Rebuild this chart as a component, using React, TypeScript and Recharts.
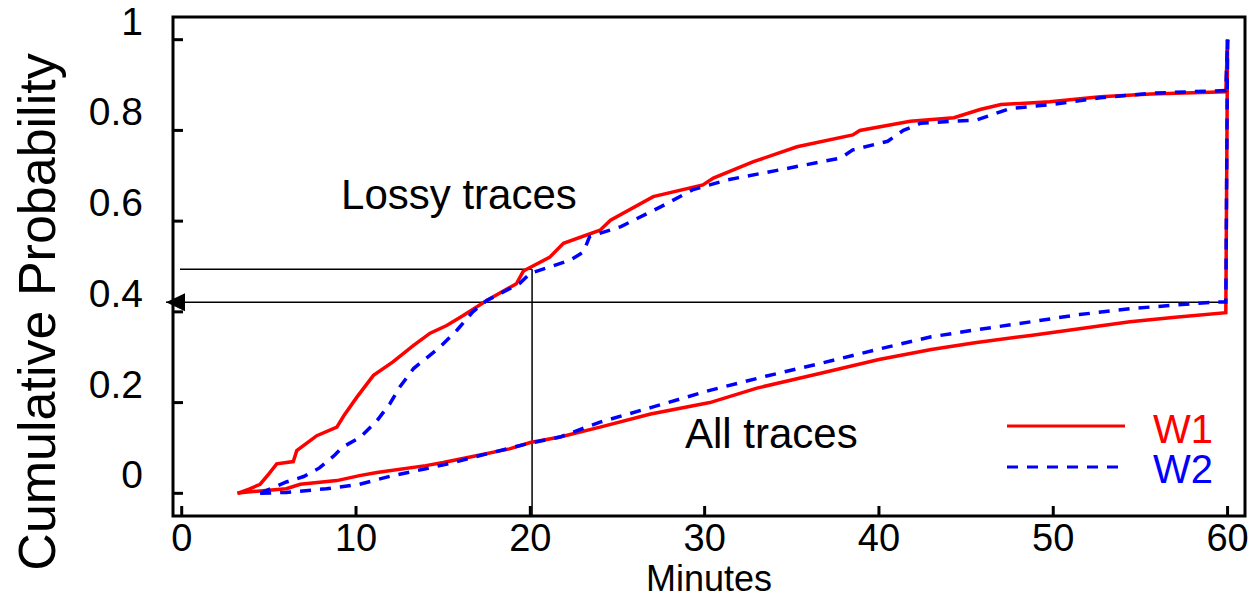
import React from "react";
import {
  LineChart,
  Line,
  XAxis,
  YAxis,
  ReferenceLine,
  ReferenceArea,
  ReferenceDot,
  Label,
} from "recharts";

type Pt = { m: number; p: number };
const mk = (a: number[][]): Pt[] => a.map(([m, p]) => ({ m, p }));

// Lossy traces, W1 (red solid)
const lossyW1: Pt[] = mk([
  [3.2, 0], [3.9, 0.01], [4.5, 0.02], [5.0, 0.043], [5.45, 0.065], [6.4, 0.07],
  [6.6, 0.094], [7.75, 0.127], [8.9, 0.146], [9.3, 0.171], [10.05, 0.212],
  [11.0, 0.26], [12.1, 0.289], [13.3, 0.326], [14.25, 0.353], [15.2, 0.37],
  [16.15, 0.392], [17.5, 0.425], [19.2, 0.462], [19.6, 0.49], [21.1, 0.52],
  [21.9, 0.551], [24.0, 0.58], [24.6, 0.602], [27.05, 0.654], [29.9, 0.68],
  [30.5, 0.695], [32.8, 0.731], [35.3, 0.764], [38.5, 0.79], [38.9, 0.8],
  [41.8, 0.82], [44.3, 0.828], [45.8, 0.846], [47.0, 0.857], [49.8, 0.863],
  [52.7, 0.874], [55.6, 0.88], [59.9, 0.885], [60, 1.0],
]);

// Lossy traces, W2 (blue dashed)
const lossyW2: Pt[] = mk([
  [4.5, 0], [6.0, 0.025], [7.0, 0.037], [7.9, 0.056], [8.8, 0.085], [9.2, 0.101],
  [10.25, 0.124], [11.2, 0.16], [11.95, 0.198], [12.5, 0.234], [13.3, 0.275],
  [14.8, 0.322], [15.8, 0.36], [16.7, 0.4], [17.5, 0.425], [19.4, 0.463],
  [20.0, 0.485], [22.3, 0.514], [23.05, 0.532], [23.4, 0.566], [25.2, 0.588],
  [27.5, 0.632], [29.3, 0.669], [31.3, 0.691], [34.3, 0.713], [37.8, 0.739],
  [38.5, 0.757], [40.5, 0.776], [41.4, 0.8], [42.4, 0.816], [45.6, 0.823],
  [47.5, 0.848], [49.9, 0.857], [52.7, 0.872], [55.6, 0.882], [59.9, 0.888],
  [60, 1.0],
]);

// All traces, W1 (red solid)
const allW1: Pt[] = mk([
  [3.2, 0], [3.5, 0.002], [6.0, 0.01], [6.8, 0.02], [8.9, 0.028], [10.2, 0.039],
  [11.2, 0.046], [14.0, 0.061], [15.0, 0.068], [16.9, 0.083], [18.8, 0.098],
  [20.0, 0.112], [21.7, 0.124], [24.0, 0.146], [26.9, 0.175], [30.3, 0.2],
  [33.0, 0.232], [36.6, 0.264], [40.0, 0.295], [43.0, 0.317], [45.5, 0.332],
  [48.7, 0.348], [51.5, 0.363], [54.4, 0.378], [57.0, 0.388], [59.9, 0.398],
  [60, 1.0],
]);

// All traces, W2 (blue dashed)
const allW2: Pt[] = mk([
  [4.5, 0], [6.0, 0.002], [8.3, 0.01], [10.2, 0.02], [12.1, 0.039], [14.0, 0.054],
  [15.6, 0.068], [17.5, 0.087], [19.8, 0.109], [21.7, 0.124], [24.0, 0.157],
  [27.0, 0.19], [30.3, 0.227], [33.5, 0.258], [36.6, 0.286], [40.0, 0.318],
  [43.0, 0.345], [45.5, 0.36], [48.7, 0.378], [51.5, 0.394], [54.4, 0.407],
  [57.0, 0.415], [59.4, 0.422], [59.9, 0.422], [60, 1.0],
]);

const xTicks = [0, 10, 20, 30, 40, 50, 60];
const yTicks = [0, 0.2, 0.4, 0.6, 0.8, 1];
const xDomain: [number, number] = [-0.5, 61];
const yDomain: [number, number] = [-0.05, 1.05];

const legendItems = [
  { name: "W1", color: "#ff0000", dash: undefined as string | undefined },
  { name: "W2", color: "#0000ff", dash: "11 9" },
];

const FONT = "'Liberation Sans', Arial, Helvetica, sans-serif";
const RED = "#ff0000";
const BLUE = "#0000ff";
const DASH = "11 9";
const LW = 3.5;

const XTick = (props: any) => {
  const { x, y, payload } = props;
  return (
    <g>
      <line x1={x} x2={x} y1={y} y2={y - 10} stroke="#000" strokeWidth={3} />
      <text x={x} y={y + 35} textAnchor="middle" fontSize={38} fontFamily={FONT} fill="#000">
        {String(payload.value)}
      </text>
    </g>
  );
};

const YTick = (props: any) => {
  const { x, y, payload } = props;
  return (
    <g>
      <line x1={x} x2={x + 10} y1={y} y2={y} stroke="#000" strokeWidth={3} />
      <text x={x - 30} y={y - 5} textAnchor="end" fontSize={39} fontFamily={FONT} fill="#000">
        {String(payload.value)}
      </text>
    </g>
  );
};

const TextShape = (text: string) => (props: any) => (
  <text x={props.cx} y={props.cy} fontSize={42} fontFamily={FONT} fill="#000">
    {text}
  </text>
);

const ArrowShape = (props: any) => {
  const { cx, cy } = props;
  return (
    <polygon
      points={`${cx},${cy} ${cx + 19},${cy - 9} ${cx + 19},${cy + 9}`}
      fill="#000"
    />
  );
};

export default function App() {
  return (
    <div style={{ position: "relative", width: 1252, height: 599 }}>
      <style>{"body{margin:0;overflow:hidden}"}</style>
      <LineChart
        width={1252}
        height={599}
        margin={{ top: 17, right: 7, bottom: 0, left: 0 }}
        style={{ background: "#fff" }}
      >
        <XAxis
          dataKey="m"
          type="number"
          domain={xDomain}
          ticks={xTicks}
          allowDataOverflow
          axisLine={false}
          tickLine={false}
          tickSize={0}
          tickMargin={0}
          height={83}
          tick={<XTick />}
          interval={0}
        >
          <Label
            content={(p: any) => (
              <text
                x={p.viewBox.x + p.viewBox.width / 2}
                y={p.viewBox.y + 75}
                textAnchor="middle"
                fontSize={36}
                fontFamily={FONT}
                fill="#000"
              >
                Minutes
              </text>
            )}
          />
        </XAxis>
        <YAxis
          type="number"
          domain={yDomain}
          ticks={yTicks}
          allowDataOverflow
          axisLine={false}
          tickLine={false}
          tickSize={0}
          tickMargin={0}
          width={173}
          tick={<YTick />}
          interval={0}
        >
          <Label
            content={(p: any) => {
              const x = p.viewBox.x + 55;
              const y = p.viewBox.y + 295;
              return (
                <text
                  x={x}
                  y={y}
                  transform={`rotate(-90, ${x}, ${y})`}
                  textAnchor="middle"
                  fontSize={52}
                  fontFamily={FONT}
                  fill="#000"
                >
                  Cumulative Probability
                </text>
              );
            }}
          />
        </YAxis>

        <ReferenceLine
          segment={[{ x: -0.1, y: 0.494 }, { x: 20.1, y: 0.494 }]}
          stroke="#000"
          strokeWidth={1.5}
          ifOverflow="visible"
        />
        <ReferenceLine
          segment={[{ x: 20.1, y: 0.494 }, { x: 20.1, y: -0.05 }]}
          stroke="#000"
          strokeWidth={1.5}
          ifOverflow="visible"
        />
        <ReferenceLine
          segment={[{ x: -0.9, y: 0.421 }, { x: 59.6, y: 0.421 }]}
          stroke="#000"
          strokeWidth={1.5}
          ifOverflow="visible"
        />
        <ReferenceDot x={-0.9} y={0.421} r={0} ifOverflow="visible" shape={ArrowShape} />

        <Line data={lossyW1} dataKey="p" name="W1" stroke={RED} strokeWidth={LW} dot={false} isAnimationActive={false} />
        <Line data={allW1} dataKey="p" name="W1 all" stroke={RED} strokeWidth={LW} dot={false} isAnimationActive={false} />
        <Line data={lossyW2} dataKey="p" name="W2" stroke={BLUE} strokeWidth={LW} strokeDasharray={DASH} dot={false} isAnimationActive={false} />
        <Line data={allW2} dataKey="p" name="W2 all" stroke={BLUE} strokeWidth={LW} strokeDasharray={DASH} dot={false} isAnimationActive={false} />

        <ReferenceDot x={9.14} y={0.627} r={0} ifOverflow="visible" shape={TextShape("Lossy traces")} />
        <ReferenceDot x={28.87} y={0.1} r={0} ifOverflow="visible" shape={TextShape("All traces")} />

        <ReferenceArea
          x1={xDomain[0]}
          x2={xDomain[1]}
          y1={yDomain[0]}
          y2={yDomain[1]}
          fill="none"
          fillOpacity={0}
          stroke="#000"
          strokeWidth={3}
          ifOverflow="visible"
        />
      </LineChart>
      <div style={{ position: "absolute", left: 1000, top: 400, width: 240, height: 100 }}>
        <svg width={240} height={100}>
          {legendItems.map((it, i) => (
            <g key={it.name}>
              <line
                x1={7}
                x2={125}
                y1={26 + i * 41}
                y2={26 + i * 41}
                stroke={it.color}
                strokeWidth={3}
                strokeDasharray={it.dash}
              />
              <text x={153} y={43 + i * 40} fontSize={40} fontFamily={FONT} fill={it.color}>
                {it.name}
              </text>
            </g>
          ))}
        </svg>
      </div>
    </div>
  );
}
